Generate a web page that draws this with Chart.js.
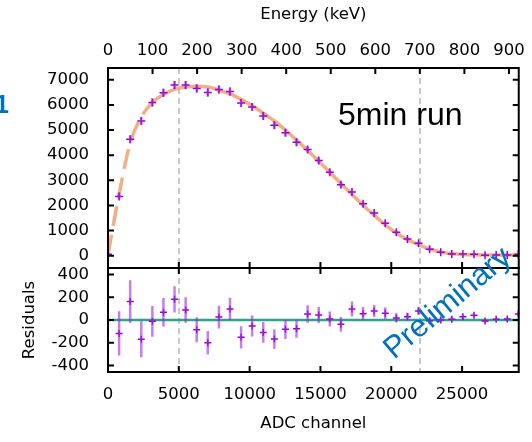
<!DOCTYPE html>
<html>
<head>
<meta charset="utf-8">
<script src="https://cdn.jsdelivr.net/npm/chart.js@4.4.1/dist/chart.umd.min.js"></script>
<style>
  html, body { margin: 0; padding: 0; background: #fff; }
</style>
</head>
<body>
<canvas id="myChart" width="532" height="442"></canvas>
<script>
// bin centres, ADC channel
var adcBins = [0, 783, 1566, 2349, 3132, 3915, 4698, 5481, 6264, 7047, 7830, 8613, 9396,
  10179, 10962, 11745, 12528, 13311, 14094, 14877, 15660, 16443, 17226, 18009, 18792,
  19575, 20358, 21141, 21924, 22707, 23490, 24273, 25056, 25839, 26622, 27405, 28188, 28971];

// measured counts per bin and their errors
var counts = [55, 2360, 4630, 5360, 6095, 6480, 6790, 6790, 6655, 6495, 6615, 6535, 6080,
  5920, 5560, 5190, 4895, 4510, 4228, 3788, 3320, 2828, 2535, 2068, 1695,
  1295, 935, 668, 495, 255, 135, 68, 68, 55, 15, 30, 30, 55];
var countErr = [40, 140, 150, 155, 160, 160, 165, 165, 165, 160, 160, 160, 160,
  155, 150, 150, 145, 140, 135, 130, 125, 120, 115, 110, 100,
  90, 80, 70, 60, 50, 40, 40, 40, 40, 40, 40, 40, 40];

// fit curve at the bin centres
var fitValues = [50, 2450, 4480, 5520, 6100, 6420, 6620, 6710, 6740, 6710, 6590, 6440, 6220,
  5970, 5670, 5360, 5000, 4600, 4190, 3760, 3320, 2870, 2440, 2010, 1610,
  1230, 900, 640, 440, 265, 150, 80, 50, 35, 30, 30, 30, 30];

// residuals (data - fit) and errors
var residuals = [0, -118, 162, -170, -12, 68, 182, 88, -85, -200, 26, 97, -153,
  -53, -109, -168, -82, -76, 53, 44, 9, -38, 97, 56, 79,
  59, 18, 29, 80, -6, 0, 6, 29, 41, -9, 6, 9, 53];
var residualErr = [10, 194, 188, 159, 136, 125, 116, 113, 110, 103, 100, 100, 97,
  93, 92, 87, 85, 80, 78, 71, 66, 65, 66, 59, 53,
  50, 41, 35, 34, 25, 22, 20, 20, 18, 15, 15, 12, 20];

// axis ticks
var adcTicks = [0, 5000, 10000, 15000, 20000, 25000];
var energyTicks = [0, 100, 200, 300, 400, 500, 600, 700, 800, 900];
var countTicks = [0, 1000, 2000, 3000, 4000, 5000, 6000, 7000];
var residualTicks = [-400, -200, 0, 200, 400];
var markerLines = [5000, 22000];
var zeroLine = [0, 29000];

var tickFont = { family: "'DejaVu Sans', sans-serif", size: 16.5 };
var purple = '#9400d3';

function pts(xs, ys) {
  return xs.map(function (x, i) { return { x: x, y: ys[i] }; });
}
function fixTicks(list) {
  return function (s) { s.ticks = list.map(function (v) { return { value: v }; }); };
}
function plain(v) { return String(v); }

var panelPlugin = {
  id: 'panels',
  beforeDatasetsDraw: function (chart) {
    var ctx = chart.ctx, x = chart.scales.x;
    var top = chart.scales.yMain.top, bot = chart.scales.yRes.bottom;
    ctx.save();
    ctx.strokeStyle = '#c8c8c8';
    ctx.lineWidth = 2;
    ctx.setLineDash([6, 4]);
    markerLines.forEach(function (v) {
      var px = Math.round(x.getPixelForValue(v));
      ctx.beginPath(); ctx.moveTo(px, top); ctx.lineTo(px, bot); ctx.stroke();
    });
    ctx.restore();
  },
  afterDatasetsDraw: function (chart) {
    var ctx = chart.ctx, x = chart.scales.x, yM = chart.scales.yMain, yR = chart.scales.yRes;
    ctx.save();
    ctx.strokeStyle = 'rgba(160,40,220,0.6)';
    ctx.lineWidth = 2.5;
    adcBins.forEach(function (b, i) {
      var px = x.getPixelForValue(b);
      ctx.beginPath();
      ctx.moveTo(px, yM.getPixelForValue(counts[i] - countErr[i]));
      ctx.lineTo(px, yM.getPixelForValue(counts[i] + countErr[i]));
      ctx.moveTo(px, yR.getPixelForValue(residuals[i] - residualErr[i]));
      ctx.lineTo(px, yR.getPixelForValue(residuals[i] + residualErr[i]));
      ctx.stroke();
    });
    ctx.restore();
  },
  afterDraw: function (chart) {
    var ctx = chart.ctx, x = chart.scales.x, e = chart.scales.x2;
    var yM = chart.scales.yMain, yR = chart.scales.yRes;
    var L = chart.chartArea.left, R = chart.chartArea.right;
    var T = yM.top, M = yM.bottom, B = yR.bottom;
    var tl = 6;
    ctx.save();
    ctx.strokeStyle = '#000';
    ctx.lineWidth = 2;
    ctx.beginPath();
    // ticks on the left/right borders
    countTicks.forEach(function (v) {
      var py = yM.getPixelForValue(v);
      ctx.moveTo(L, py); ctx.lineTo(L + tl, py);
      ctx.moveTo(R, py); ctx.lineTo(R - tl, py);
    });
    residualTicks.forEach(function (v) {
      var py = yR.getPixelForValue(v);
      ctx.moveTo(L, py); ctx.lineTo(L + tl, py);
      ctx.moveTo(R, py); ctx.lineTo(R - tl, py);
    });
    // energy ticks on top
    energyTicks.forEach(function (v) {
      var px = e.getPixelForValue(v);
      ctx.moveTo(px, T); ctx.lineTo(px, T + tl);
    });
    // ADC ticks on both panels
    adcTicks.forEach(function (v) {
      var px = x.getPixelForValue(v);
      ctx.moveTo(px, M); ctx.lineTo(px, M - tl);
      ctx.moveTo(px, M); ctx.lineTo(px, M + tl);
      ctx.moveTo(px, B); ctx.lineTo(px, B - tl);
    });
    ctx.stroke();
    ctx.strokeRect(L, T, R - L, M - T);
    ctx.strokeRect(L, M, R - L, B - M);

    ctx.fillStyle = '#000';
    ctx.font = "32px 'Liberation Sans', Arial, sans-serif";
    ctx.textBaseline = 'alphabetic';
    ctx.fillText('5min run', 338, 125);

    ctx.fillStyle = '#0070c0';
    ctx.font = "bold 25px 'Liberation Sans', Arial, sans-serif";
    ctx.fillText('1', -5, 113);

    ctx.translate(394, 360);
    ctx.rotate(-40 * Math.PI / 180);
    ctx.font = "31px 'Liberation Sans', Arial, sans-serif";
    ctx.fillText('Preliminary', 0, 0);
    ctx.restore();
  }
};

var ctx = document.getElementById('myChart').getContext('2d');
var chart = new Chart(ctx, {
  type: 'line',
  data: {
    datasets: [{
      label: 'data',
      data: pts(adcBins, counts),
      xAxisID: 'x', yAxisID: 'yMain',
      showLine: false,
      pointStyle: 'cross', pointRadius: 4, pointBorderWidth: 1.5,
      pointBorderColor: purple, pointBackgroundColor: purple
    }, {
      label: 'residuals',
      data: pts(adcBins, residuals),
      xAxisID: 'x', yAxisID: 'yRes',
      showLine: false,
      pointStyle: 'cross', pointRadius: 3.5, pointBorderWidth: 1.5,
      pointBorderColor: purple, pointBackgroundColor: purple
    }, {
      label: 'fit',
      data: pts(adcBins, fitValues),
      xAxisID: 'x', yAxisID: 'yMain',
      borderColor: 'rgba(240,160,110,0.85)', borderWidth: 3.5,
      pointRadius: 0, cubicInterpolationMode: 'monotone',
      segment: {
        borderDash: function (c) { return c.p0DataIndex < 4 ? [20, 9] : undefined; }
      }
    }, {
      label: 'zero',
      data: pts(zeroLine, [0, 0]),
      xAxisID: 'x', yAxisID: 'yRes',
      borderColor: '#2ba58a', borderWidth: 2.5, pointRadius: 0
    }]
  },
  options: {
    responsive: false,
    animation: false,
    layout: { padding: { left: 0, right: 13, top: 0, bottom: 0 } },
    plugins: { legend: { display: false }, tooltip: { enabled: false } },
    scales: {
      x: {
        type: 'linear', position: 'bottom', min: 0, max: 29000,
        afterBuildTicks: fixTicks(adcTicks),
        afterFit: function (s) { s.height = 70; },
        grid: { display: false, drawTicks: false }, border: { display: false },
        ticks: { color: '#000', font: tickFont, padding: 12.4, maxRotation: 0, autoSkip: false, callback: plain },
        title: { display: true, text: 'ADC channel', color: '#000', font: tickFont, padding: { top: 0, bottom: 8.8 } }
      },
      x2: {
        type: 'linear', axis: 'x', position: 'top', min: 0, max: 922,
        afterBuildTicks: fixTicks(energyTicks),
        afterFit: function (s) { s.height = 68; },
        grid: { display: false, drawTicks: false }, border: { display: false },
        ticks: { color: '#000', font: tickFont, padding: 7, maxRotation: 0, autoSkip: false, callback: plain },
        title: { display: true, text: 'Energy (keV)', color: '#000', font: tickFont, padding: { top: 5, bottom: 0 } }
      },
      yRes: {
        type: 'linear', axis: 'y', position: 'left', stack: 'panels', stackWeight: 104,
        min: -458, max: 458,
        afterBuildTicks: fixTicks(residualTicks),
        afterFit: function (s) { s.width = 108; },
        grid: { display: false, drawTicks: false }, border: { display: false },
        ticks: { color: '#000', font: tickFont, padding: 19, autoSkip: false, callback: plain },
        title: { display: true, text: 'Residuals', color: '#000', font: tickFont, padding: { top: 20, bottom: 0 } }
      },
      yMain: {
        type: 'linear', axis: 'y', position: 'left', stack: 'panels', stackWeight: 200,
        min: -490, max: 7470,
        afterBuildTicks: fixTicks(countTicks),
        afterFit: function (s) { s.width = 108; },
        grid: { display: false, drawTicks: false }, border: { display: false },
        ticks: { color: '#000', font: tickFont, padding: 19, autoSkip: false, callback: plain }
      }
    }
  },
  plugins: [panelPlugin]
});
</script>
</body>
</html>
